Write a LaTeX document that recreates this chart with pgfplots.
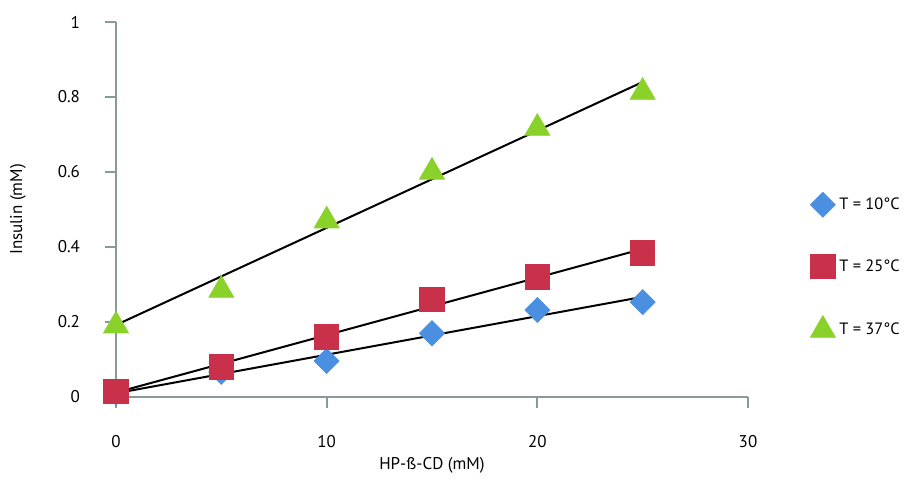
\documentclass[border=0pt]{standalone}
\usepackage{pgfplots}
\pgfplotsset{compat=1.18}
\usepackage{fontspec}
\setmainfont{PT Sans}
\definecolor{axiscol}{HTML}{8A9A9C}
\definecolor{cblue}{HTML}{4A8FE0}
\definecolor{cred}{HTML}{C9304A}
\definecolor{cgreen}{HTML}{8AD22A}
\begin{document}
\fontsize{8.5}{10}\selectfont
\begin{tikzpicture}
\useasboundingbox (-58pt,-41pt) rectangle (394.5pt,198.5pt);
\begin{axis}[
  at={(0,0)}, anchor=south west,
  scale only axis, width=316pt, height=187.5pt,
  xmin=0, xmax=30, ymin=0, ymax=1,
  xtick={0,10,20,30}, ytick={0,0.2,0.4,0.6,0.8,1},
  axis lines=left,
  axis line style={draw=axiscol, line width=1pt, -},
  tick style={draw=axiscol, line width=1pt},
  tick align=outside,
  major tick length=5.5pt,
  clip=false,
  /pgf/number format/assume math mode=true,
  ticklabel style={font=\fontsize{8.5}{10}\selectfont},
  xticklabel style={yshift=-10.5pt},
  yticklabel style={xshift=-9.5pt},
  xlabel={HP-ß-CD (mM)},
  ylabel={Insulin (mM)},
  label style={font=\fontsize{8.5}{10}\selectfont},
  xlabel style={at={(axis description cs:0.5,0)}, anchor=center, yshift=-34pt},
  ylabel style={at={(axis description cs:-0.155,0.5)}, anchor=center, rotate=0},
  legend style={draw=none, fill=none, at={(347pt,102.5pt)}, anchor=north west,
    font=\fontsize{8.2}{10}\selectfont, row sep=18.5pt, inner sep=0pt},
  legend cell align=left,
]
\addplot[only marks, mark=square*, mark size=4.4pt, mark options={rotate=45, fill=cblue, draw=cblue}]
  coordinates {(0,0.012)(5,0.067)(10,0.096)(15,0.17)(20,0.232)(25,0.253)};
\addlegendentry{T = 10°C}
\addplot[only marks, mark=square*, mark size=6.1pt, mark options={fill=cred, draw=cred}]
  coordinates {(0,0.015)(5,0.08)(10,0.16)(15,0.26)(20,0.32)(25,0.384)};
\addlegendentry{T = 25°C}
\addplot[only marks, mark=triangle*, mark size=7.2pt, mark options={fill=cgreen, draw=cgreen}]
  coordinates {(0,0.19)(5,0.285)(10,0.47)(15,0.60)(20,0.717)(25,0.813)};
\addlegendentry{T = 37°C}
\addplot[black, line width=1pt, forget plot] coordinates {(0,0.01)(25,0.267)};
\addplot[black, line width=1pt, forget plot] coordinates {(0,0.012)(25,0.395)};
\addplot[black, line width=1pt, forget plot] coordinates {(0,0.192)(25,0.84)};
\end{axis}
\end{tikzpicture}
\end{document}
